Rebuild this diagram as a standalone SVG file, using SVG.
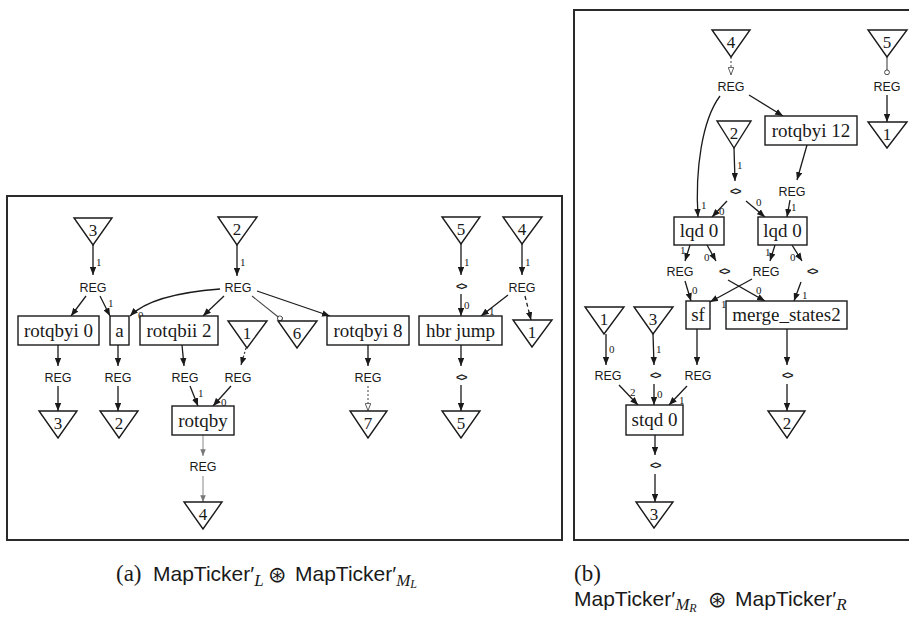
<svg xmlns="http://www.w3.org/2000/svg" width="909" height="617" viewBox="0 0 909 617">
  <defs>
    <marker id="arr" viewBox="0 0 10 8" refX="10" refY="4" markerWidth="8" markerHeight="6.5" orient="auto" markerUnits="userSpaceOnUse">
      <path d="M0,0 L10,4 L0,8 z" fill="#1a1a1a"/>
    </marker>
    <marker id="arrGray" viewBox="0 0 10 8" refX="10" refY="4" markerWidth="7" markerHeight="5.5" orient="auto" markerUnits="userSpaceOnUse">
      <path d="M0,0 L10,4 L0,8 z" fill="#777"/>
    </marker>
    <marker id="openTri" viewBox="0 0 10 8" refX="10" refY="4" markerWidth="8" markerHeight="6.5" orient="auto" markerUnits="userSpaceOnUse">
      <path d="M0.5,0.5 L9.5,4 L0.5,7.5 z" fill="#fff" stroke="#555" stroke-width="1.2"/>
    </marker>
    <marker id="openDot" viewBox="0 0 8 8" refX="7.5" refY="4" markerWidth="6" markerHeight="6" orient="auto" markerUnits="userSpaceOnUse">
      <circle cx="4" cy="4" r="3.2" fill="#fff" stroke="#444" stroke-width="1.3"/>
    </marker>
  </defs>
  <style>
    .frame { fill: none; stroke: #2a2a2a; stroke-width: 2; }
    .box { fill: #fff; stroke: #1a1a1a; stroke-width: 1.4; }
    .tri { fill: #fff; stroke: #1a1a1a; stroke-width: 1.4; stroke-linejoin: miter; }
    .op { font-family: "Liberation Serif", "Times New Roman", serif; font-size: 19px; fill: #1a1a1a; text-anchor: middle; }
    .num { font-family: "Liberation Serif", "Times New Roman", serif; font-size: 17px; fill: #1a1a1a; text-anchor: middle; }
    .reg { font-family: "Liberation Sans", Arial, sans-serif; font-size: 12.5px; fill: #1a1a1a; text-anchor: middle; }
    .dia { font-family: "Liberation Sans", Arial, sans-serif; font-size: 11px; font-weight: bold; fill: #1a1a1a; text-anchor: middle; letter-spacing: -1.5px; }
    .port { font-family: "Liberation Serif", "Times New Roman", serif; font-size: 11px; fill: #1a1a1a; }
    .e { fill: none; stroke: #1a1a1a; stroke-width: 1.3; marker-end: url(#arr); }
    .eg { fill: none; stroke: #888; stroke-width: 1; marker-end: url(#arrGray); }
    .ed { fill: none; stroke: #555; stroke-width: 1.1; stroke-dasharray: 2 2; marker-end: url(#openTri); }
    .eo { fill: none; stroke: #444; stroke-width: 1.1; marker-end: url(#openDot); }
    .edash { fill: none; stroke: #1a1a1a; stroke-width: 1.3; stroke-dasharray: 4 3; marker-end: url(#arr); }
    .edot { fill: none; stroke: #333; stroke-width: 1.2; stroke-dasharray: 2 2; marker-end: url(#arr); }
    .cap { font-family: "Liberation Sans", Arial, sans-serif; font-size: 21px; fill: #1a1a1a; }
    .capser { font-family: "Liberation Serif", "Times New Roman", serif; font-size: 23px; }
    .sub { font-family: "Liberation Serif", "Times New Roman", serif; font-style: italic; font-size: 17px; }
    .sub2 { font-family: "Liberation Serif", "Times New Roman", serif; font-style: italic; font-size: 12px; }
    .op2 { font-family: "DejaVu Sans", sans-serif; font-size: 22px; }
  </style>

  <rect width="909" height="617" fill="#fff"/>

  <!-- panel frames -->
  <rect class="frame" x="7" y="196" width="555" height="344"/>
  <rect class="frame" x="574" y="10" width="360" height="530"/>

  <!-- ===== connectors ===== -->
  <g id="edges">
    <!-- left panel -->
    <path class="e" d="M93,245 L93,275"/>
    <path class="e" d="M237,245 L237,276"/>
    <path class="e" d="M86,296 L71,316"/>
    <path class="e" d="M100,296 L110,316"/>
    <path class="e" d="M220,289 C180,292 146,300 130,316"/>
    <path class="e" d="M224,296 L203,316"/>
    <path class="eo" d="M252,296 L282,320"/>
    <path class="e" d="M257,291 L330,316"/>
    <path class="e" d="M461,244 L461,275"/>
    <path class="e" d="M522,244 L522,275"/>
    <path class="e" d="M461,294 L461,316"/>
    <path class="e" d="M508,295 L481,316"/>
    <path class="edash" d="M525,296 L531,320"/>
    <path class="e" d="M58,345 L58,366"/>
    <path class="e" d="M58,386 L58,411"/>
    <path class="e" d="M118,345 L118,366"/>
    <path class="e" d="M118,386 L118,411"/>
    <path class="e" d="M182,345 L184,366"/>
    <path class="edot" d="M246,348 L241,365"/>
    <path class="e" d="M190,386 L198,406"/>
    <path class="e" d="M231,386 L213,406"/>
    <path class="eg" d="M203,435 L203,456"/>
    <path class="eg" d="M203,476 L203,502"/>
    <path class="e" d="M368,345 L368,366"/>
    <path class="ed" d="M368,386 L368,411"/>
    <path class="e" d="M461,345 L461,366"/>
    <path class="e" d="M461,385 L461,411"/>

    <!-- right panel -->
    <path class="ed" d="M731,57 L731,75"/>
    <path class="eo" d="M887,57 L887,75"/>
    <path class="e" d="M887,95 L887,122"/>
    <path class="e" d="M749,95 L783,116"/>
    <path class="e" d="M720,96 C702,120 695,170 698,217"/>
    <path class="e" d="M734,148 L735,181"/>
    <path class="e" d="M807,145 L797,180"/>
    <path class="e" d="M727,201 L712,217"/>
    <path class="e" d="M746,201 L765,217"/>
    <path class="e" d="M790,200 L787,217"/>
    <path class="e" d="M690,245 L685,261"/>
    <path class="e" d="M707,245 L716,261"/>
    <path class="e" d="M775,245 L770,261"/>
    <path class="e" d="M792,245 L802,261"/>
    <path class="e" d="M685,281 L691,301"/>
    <path class="e" d="M752,279 L710,302"/>
    <path class="e" d="M728,280 L765,301"/>
    <path class="e" d="M801,282 L794,301"/>
    <path class="e" d="M606,334 L606,365"/>
    <path class="e" d="M653,334 L654,365"/>
    <path class="e" d="M697,329 L697,365"/>
    <path class="e" d="M787,329 L787,365"/>
    <path class="e" d="M787,384 L787,411"/>
    <path class="e" d="M619,385 L638,405"/>
    <path class="e" d="M654,384 L654,405"/>
    <path class="e" d="M687,386 L669,405"/>
    <path class="e" d="M655,435 L655,455"/>
    <path class="e" d="M655,474 L655,502"/>

    <!-- port numbers -->
    <g class="port">
      <text x="96" y="266">1</text>
      <text x="240" y="266">1</text>
      <text x="108" y="307">1</text>
      <text x="138" y="319">0</text>
      <text x="464" y="266">1</text>
      <text x="525" y="266">1</text>
      <text x="464" y="309">0</text>
      <text x="489" y="315">1</text>
      <text x="198" y="397">1</text>
      <text x="221" y="406">0</text>
      <text x="701" y="209">1</text>
      <text x="737" y="169">1</text>
      <text x="719" y="215">0</text>
      <text x="756" y="206">0</text>
      <text x="791" y="211">1</text>
      <text x="680" y="254">1</text>
      <text x="704" y="261">0</text>
      <text x="765" y="256">1</text>
      <text x="790" y="261">0</text>
      <text x="692" y="294">0</text>
      <text x="721" y="308">1</text>
      <text x="756" y="294">0</text>
      <text x="802" y="299">1</text>
      <text x="609" y="353">0</text>
      <text x="656" y="353">1</text>
      <text x="630" y="396">2</text>
      <text x="657" y="398">0</text>
      <text x="679" y="404">1</text>
    </g>
  </g>

  <!-- ===== left panel nodes ===== -->
  <g id="l-in3"><polygon class="tri" points="74,218 112,218 93,245"/><text class="num" x="93" y="236">3</text></g>
  <g id="l-reg-a"><text class="reg" x="93" y="292">REG</text></g>
  <g id="l-rotqbyi0"><rect class="box" x="18" y="316" width="81" height="29"/><text class="op" x="58.5" y="337">rotqbyi 0</text></g>
  <g id="l-a"><rect class="box" x="110" y="316" width="19" height="29"/><text class="op" x="119.5" y="337">a</text></g>
  <g id="l-rotqbii2"><rect class="box" x="140" y="316" width="78" height="29"/><text class="op" x="179" y="337">rotqbii 2</text></g>
  <g id="l-in2"><polygon class="tri" points="218,217 257,217 237,245"/><text class="num" x="237" y="235">2</text></g>
  <g id="l-reg-b"><text class="reg" x="238" y="292">REG</text></g>
  <g id="l-out1"><polygon class="tri" points="228,321 267,321 247,348"/><text class="num" x="247" y="339">1</text></g>
  <g id="l-out6"><polygon class="tri" points="278,321 317,321 297,348"/><text class="num" x="297" y="339">6</text></g>
  <g id="l-rotqbyi8"><rect class="box" x="327" y="316" width="82" height="29"/><text class="op" x="368" y="337">rotqbyi 8</text></g>
  <g id="l-hbrjump"><rect class="box" x="419" y="316" width="83" height="29"/><text class="op" x="460.5" y="337">hbr jump</text></g>
  <g id="l-in5"><polygon class="tri" points="442,217 480,217 461,244"/><text class="num" x="461" y="235">5</text></g>
  <g id="l-in4"><polygon class="tri" points="503,217 542,217 522,244"/><text class="num" x="522" y="235">4</text></g>
  <g id="l-ctl-a"><text class="dia" x="461" y="290">&lt;&gt;</text></g>
  <g id="l-reg-c"><text class="reg" x="522" y="292">REG</text></g>
  <g id="l-out1b"><polygon class="tri" points="513,320 552,320 532,347"/><text class="num" x="532" y="338">1</text></g>
  <g id="l-reg-d"><text class="reg" x="58" y="382">REG</text></g>
  <g id="l-out3"><polygon class="tri" points="39,411 77,411 58,438"/><text class="num" x="58" y="429">3</text></g>
  <g id="l-reg-e"><text class="reg" x="118" y="382">REG</text></g>
  <g id="l-out2"><polygon class="tri" points="100,411 138,411 119,438"/><text class="num" x="119" y="429">2</text></g>
  <g id="l-reg-f"><text class="reg" x="185" y="382">REG</text></g>
  <g id="l-reg-g"><text class="reg" x="238" y="382">REG</text></g>
  <g id="l-rotqby"><rect class="box" x="172" y="406" width="62" height="29"/><text class="op" x="203" y="427">rotqby</text></g>
  <g id="l-reg-h"><text class="reg" x="203" y="471">REG</text></g>
  <g id="l-out4"><polygon class="tri" points="184,502 222,502 203,529"/><text class="num" x="203" y="520">4</text></g>
  <g id="l-reg-i"><text class="reg" x="368" y="382">REG</text></g>
  <g id="l-out7"><polygon class="tri" points="350,411 387,411 368,438"/><text class="num" x="368" y="429">7</text></g>
  <g id="l-ctl-b"><text class="dia" x="461" y="381">&lt;&gt;</text></g>
  <g id="l-out5"><polygon class="tri" points="442,411 480,411 461,438"/><text class="num" x="461" y="429">5</text></g>

  <!-- ===== right panel nodes ===== -->
  <g id="r-in4"><polygon class="tri" points="712,30 750,30 731,57"/><text class="num" x="731" y="48">4</text></g>
  <g id="r-reg-a"><text class="reg" x="731" y="91">REG</text></g>
  <g id="r-in5"><polygon class="tri" points="868,30 907,30 887,57"/><text class="num" x="887" y="48">5</text></g>
  <g id="r-reg-b"><text class="reg" x="887" y="91">REG</text></g>
  <g id="r-out1"><polygon class="tri" points="868,122 907,122 887,148"/><text class="num" x="887" y="140">1</text></g>
  <g id="r-in2"><polygon class="tri" points="717,121 751,121 734,148"/><text class="num" x="734" y="139">2</text></g>
  <g id="r-rotqbyi12"><rect class="box" x="765" y="116" width="92" height="29"/><text class="op" x="811" y="137">rotqbyi 12</text></g>
  <g id="r-ctl-a"><text class="dia" x="735" y="195">&lt;&gt;</text></g>
  <g id="r-reg-c"><text class="reg" x="792" y="196">REG</text></g>
  <g id="r-lqd-a"><rect class="box" x="674" y="217" width="50" height="28"/><text class="op" x="699" y="237">lqd 0</text></g>
  <g id="r-lqd-b"><rect class="box" x="758" y="217" width="49" height="28"/><text class="op" x="782.5" y="237">lqd 0</text></g>
  <g id="r-reg-d"><text class="reg" x="680" y="276">REG</text></g>
  <g id="r-ctl-b"><text class="dia" x="724" y="275">&lt;&gt;</text></g>
  <g id="r-reg-e"><text class="reg" x="766" y="276">REG</text></g>
  <g id="r-ctl-c"><text class="dia" x="812" y="275">&lt;&gt;</text></g>
  <g id="r-sf"><rect class="box" x="686" y="301" width="24" height="28"/><text class="op" x="698" y="321">sf</text></g>
  <g id="r-merge"><rect class="box" x="726" y="301" width="121" height="28"/><text class="op" x="786.5" y="321">merge_states2</text></g>
  <g id="r-in1"><polygon class="tri" points="585,307 624,307 604,334"/><text class="num" x="604" y="325">1</text></g>
  <g id="r-in3"><polygon class="tri" points="634,307 673,307 653,334"/><text class="num" x="653" y="325">3</text></g>
  <g id="r-reg-f"><text class="reg" x="608" y="380">REG</text></g>
  <g id="r-ctl-d"><text class="dia" x="655" y="379">&lt;&gt;</text></g>
  <g id="r-reg-g"><text class="reg" x="698" y="380">REG</text></g>
  <g id="r-ctl-e"><text class="dia" x="787" y="379">&lt;&gt;</text></g>
  <g id="r-stqd0"><rect class="box" x="626" y="405" width="57" height="30"/><text class="op" x="654.5" y="426">stqd 0</text></g>
  <g id="r-out2"><polygon class="tri" points="768,411 805,411 787,438"/><text class="num" x="787" y="429">2</text></g>
  <g id="r-ctl-f"><text class="dia" x="655" y="469">&lt;&gt;</text></g>
  <g id="r-out3"><polygon class="tri" points="636,502 673,502 654,528"/><text class="num" x="654" y="520">3</text></g>

  <!-- ===== captions ===== -->
  <text class="cap" y="581"><tspan class="capser" x="116">(a)</tspan><tspan x="153">MapTicker′</tspan><tspan class="sub" dy="5">L</tspan><tspan class="op2" x="268" dy="-4">⊛</tspan><tspan x="295" dy="-1">MapTicker′</tspan><tspan class="sub" dy="5">M</tspan><tspan class="sub2" dy="2">L</tspan></text>
  <text class="cap" x="574" y="581"><tspan class="capser">(b)</tspan></text>
  <text class="cap" y="606"><tspan x="574">MapTicker′</tspan><tspan class="sub" dy="4">M</tspan><tspan class="sub2" dy="2">R</tspan><tspan class="op2" x="708" dy="-5">⊛</tspan><tspan x="735" dy="-1">MapTicker′</tspan><tspan class="sub" dy="4">R</tspan></text>
</svg>
